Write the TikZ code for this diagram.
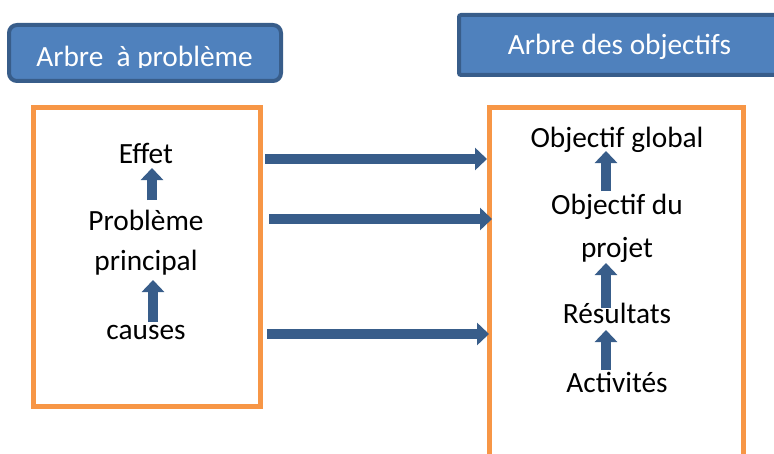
\documentclass[tikz,border=0pt]{standalone}
\usepackage{fontspec}
\setmainfont{Carlito}
\usetikzlibrary{arrows.meta,calc}
\definecolor{titleblue}{HTML}{4F81BD}
\definecolor{darkblue}{HTML}{385D8A}
\definecolor{boxorange}{HTML}{F79646}
\tikzset{
  txt/.style={font=\fontsize{22}{26}\selectfont, inner sep=0pt, anchor=base},
  titlebox/.style={fill=titleblue, draw=darkblue, line width=3pt},
  treebox/.style={draw=boxorange, line width=3.75pt, rectangle},
  blockarrow/.style={draw=darkblue, line width=7.5pt, -{Triangle[width=16.5pt,length=9pt]}}
}

\begin{document}
\begin{tikzpicture}[x=0.75pt,y=-0.75pt]
\useasboundingbox (0,0) rectangle (774,453);
\clip (0,0) rectangle (774,453);

\node[titlebox, rounded corners=6pt, minimum width=204pt, minimum height=42pt] (ltitle) at (145,53) {};
\node[titlebox, rounded corners=1.5pt, minimum width=255.75pt, minimum height=45pt] (rtitle) at (629.5,45) {};
\begin{scope}
\clip (9,25) rectangle (281,67.5);
\node[txt, white] (ltitletext) at (144.5,66.5) {Arbre\ \ à problème};
\end{scope}
\node[txt, white] (rtitletext) at (619.5,55) {Arbre des objectifs};

\node[treebox, minimum width=170.25pt, minimum height=224.25pt] (lbox) at (147,257) {};
\node[treebox, minimum width=190.5pt, minimum height=279.4pt] (rbox) at (616,293.75) {};

\node[txt] (effet) at (146,163) {Effet};
\node[txt] (prob) at (146,230) {Problème};
\node[txt] (princ) at (146,270) {principal};
\node[txt] (causes) at (146,339) {causes};

\node[txt] (oglobal) at (617,147) {Objectif global};
\node[txt] (objdu) at (617,214) {Objectif du};
\node[txt] (projet) at (617,257) {projet};
\node[txt] (res) at (617,323) {Résultats};
\node[txt] (act) at (617,392) {Activités};

\draw[blockarrow] ($(prob.base)+(6,-30)$) -- ($(effet.base)+(6,5)$);
\draw[blockarrow] ($(causes.base)+(7,-17)$) -- ($(princ.base)+(7,10)$);
\draw[blockarrow] ($(objdu.base)+(-11,-23)$) -- ($(oglobal.base)+(-11,4)$);
\draw[blockarrow] ($(res.base)+(-11,-15)$) -- ($(projet.base)+(-11,6)$);
\draw[blockarrow] ($(act.base)+(-11,-22)$) -- ($(res.base)+(-11,7)$);

\foreach \n/\a/\b/\dy in {effet/2/0.5/-4, prob/6/5.5/-11, causes/4/2.5/-5}
\draw[blockarrow] ($(lbox.east |- \n.base)+(\a,\dy)$) -- ($(rbox.west |- \n.base)+(\b,\dy)$);
\end{tikzpicture}
\end{document}
